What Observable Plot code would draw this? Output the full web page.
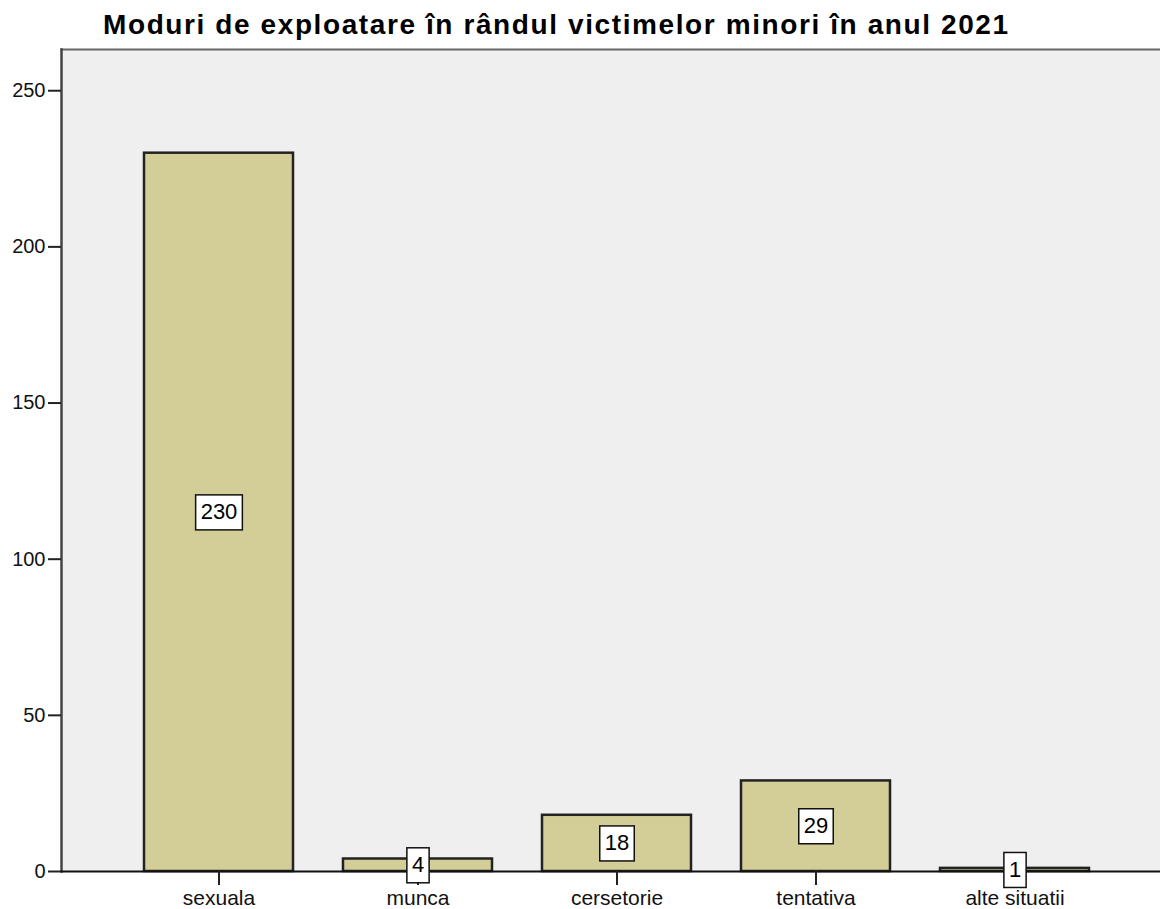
<!DOCTYPE html>
<html>
<head>
<meta charset="utf-8">
<script src="https://cdn.jsdelivr.net/npm/d3@7"></script>
<script src="https://cdn.jsdelivr.net/npm/@observablehq/plot@0.6"></script>
<style>
  html, body { margin: 0; padding: 0; background: #ffffff; }
  #wrap { position: relative; width: 1160px; height: 909px; overflow: hidden; }
  #title { position: absolute; left: 103px; top: 11px; font-family: "Liberation Sans", Arial, sans-serif; font-weight: bold; font-size: 28px; letter-spacing: 1.6px; line-height: 28px; color: #000; white-space: nowrap; }
  #chart { position: absolute; left: 0; top: 0; }
</style>
</head>
<body>
<div id="wrap">
  <div id="chart"></div>
  <div id="title">Moduri de exploatare în rândul victimelor minori în anul 2021</div>
</div>
<script>
const categories = ["sexuala", "munca", "cersetorie", "tentativa", "alte situatii"];
const counts = [230, 4, 18, 29, 1];
const yTicks = [0, 50, 100, 150, 200, 250];

const data = categories.map((c, i) => ({category: c, count: counts[i]}));

const font = '"Liberation Sans", Arial, sans-serif';

const chart = Plot.plot({
  width: 1160,
  height: 909,
  marginTop: 49,
  marginLeft: 61,
  marginRight: 0,
  marginBottom: 38,
  style: {fontFamily: font, background: "transparent", color: "#111"},
  x: {domain: categories, range: [118, 1116], paddingInner: 0.25, paddingOuter: 0.125, align: 0.5},
  y: {domain: [0, 263.2]},
  marks: [
    Plot.frame({fill: "#efefef", stroke: null}),
    Plot.frame({anchor: "top", stroke: "#666", strokeWidth: 2}),
    Plot.barY(data, {x: "category", y: "count", fill: "#d3ce98", stroke: "#222", strokeWidth: 2.5}),
    Plot.frame({anchor: "left", stroke: "#444", strokeWidth: 2.5}),
    Plot.ruleY([0], {stroke: "#111", strokeWidth: 2}),
    Plot.axisY({ticks: yTicks, tickSize: 13, tickPadding: 3, fontSize: 20, label: null, stroke: "#222", strokeWidth: 2}),
    Plot.axisX({tickSize: 14, tickPadding: 5, fontSize: 21, label: null, stroke: "#222", strokeWidth: 2}),
    Plot.text(data, {x: "category", y: d => d.count / 2, text: d => String(d.count), fontSize: 22, fill: "#000"})
  ]
});

document.getElementById("chart").appendChild(chart);

// white boxes behind the value labels
const svg = d3.select(chart.tagName.toLowerCase() === "svg" ? chart : chart.querySelector("svg"));
svg.selectAll('g[aria-label="text"] text').each(function() {
  const b = this.getBBox();
  const cy = b.y + b.height / 2;
  d3.select(this.parentNode).insert("rect", () => this)
    .attr("x", b.x - 5)
    .attr("y", cy - 17)
    .attr("width", b.width + 10)
    .attr("height", 35)
    .attr("fill", "#ffffff")
    .attr("stroke", "#111")
    .attr("stroke-width", 1.5)
    .attr("transform", this.getAttribute("transform"));
});
</script>
</body>
</html>
